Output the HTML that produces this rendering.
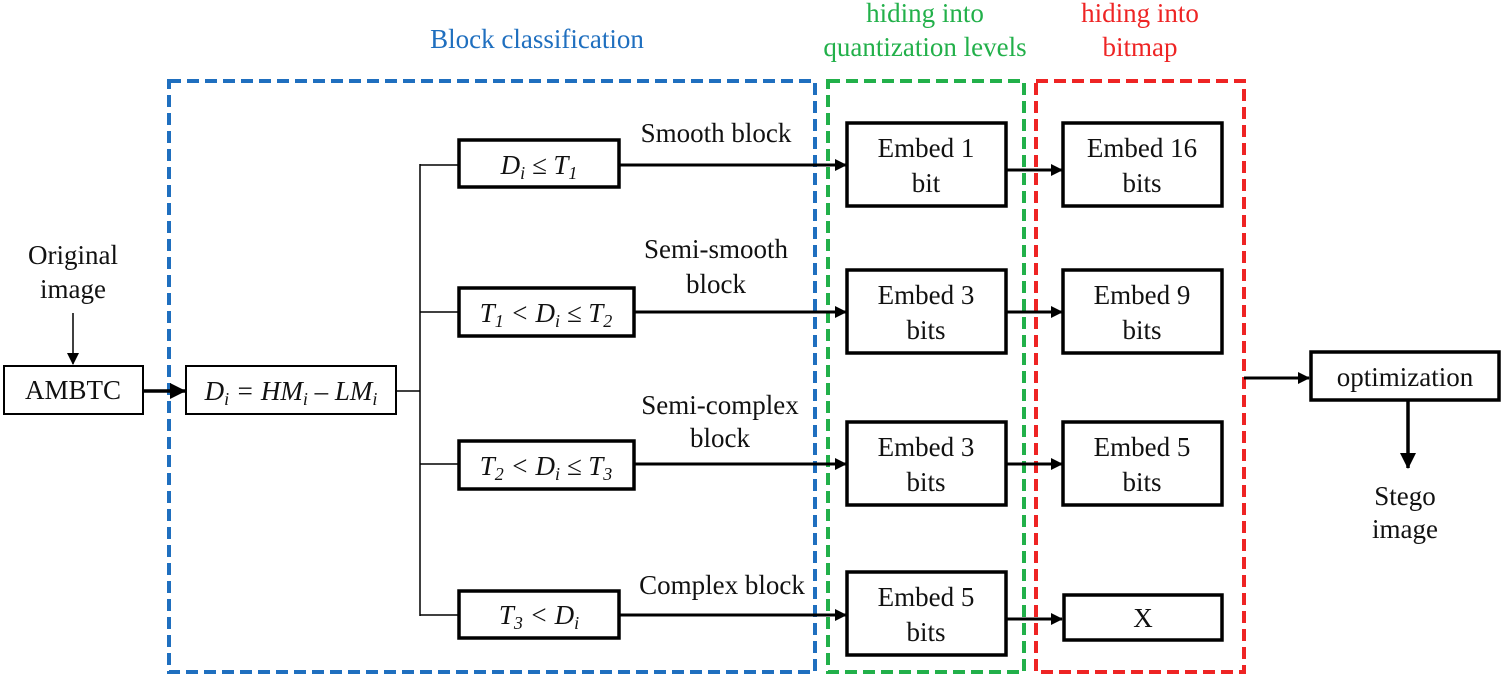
<!DOCTYPE html>
<html><head><meta charset="utf-8"><style>
html,body{margin:0;padding:0;background:#fff;}
svg{display:block;}
text{font-family:"Liberation Serif",serif;font-size:27px;fill:#111;}
.i{font-style:italic;}
</style></head><body>
<svg width="1505" height="679" viewBox="0 0 1505 679" xmlns="http://www.w3.org/2000/svg">
<defs>
<marker id="a" markerWidth="12" markerHeight="12" refX="11" refY="6" orient="auto" markerUnits="userSpaceOnUse">
<path d="M0,0 L12,6 L0,12 z" fill="#000"/></marker>
<marker id="b" markerWidth="16" markerHeight="16" refX="15" refY="8" orient="auto" markerUnits="userSpaceOnUse">
<path d="M0,0 L16,8 L0,16 z" fill="#000"/></marker>
</defs>
<rect x="169" y="81" width="646" height="591" fill="none" stroke="#1f6fbf" stroke-width="4" stroke-dasharray="12,6"/>
<rect x="828" y="81" width="196" height="591" fill="none" stroke="#22b04a" stroke-width="4" stroke-dasharray="12,6"/>
<rect x="1036" y="81" width="208" height="591" fill="none" stroke="#ee2424" stroke-width="4" stroke-dasharray="12,6"/>
<text x="537" y="48" text-anchor="middle" style="fill:#1f6fbf">Block classification</text>
<text x="925" y="22" text-anchor="middle" style="fill:#22b04a">hiding into</text>
<text x="925" y="56" text-anchor="middle" style="fill:#22b04a">quantization levels</text>
<text x="1140" y="22" text-anchor="middle" style="fill:#ee2424">hiding into</text>
<text x="1140" y="56" text-anchor="middle" style="fill:#ee2424">bitmap</text>

<text x="73" y="264" text-anchor="middle">Original</text>
<text x="73" y="298" text-anchor="middle">image</text>
<line x1="73" y1="313" x2="73" y2="364" stroke="#000" stroke-width="1.5" marker-end="url(#a)"/>
<rect x="4" y="366" width="139" height="48" fill="#fff" stroke="#000" stroke-width="2"/>
<text x="73" y="399" text-anchor="middle">AMBTC</text>
<line x1="143" y1="391" x2="185" y2="391" stroke="#000" stroke-width="3.5" marker-end="url(#b)"/>
<rect x="186" y="366" width="210" height="48" fill="#fff" stroke="#000" stroke-width="2"/>
<text x="291" y="400" text-anchor="middle" class="i">D<tspan font-size="18" dy="5">i</tspan><tspan dy="-5"> = HM</tspan><tspan font-size="18" dy="5">i</tspan><tspan dy="-5"> – LM</tspan><tspan font-size="18" dy="5">i</tspan></text>
<line x1="396" y1="391" x2="420" y2="391" stroke="#000" stroke-width="1.5"/>
<line x1="420" y1="164" x2="420" y2="616" stroke="#000" stroke-width="1.5"/>
<g stroke="#000" stroke-width="1.5">
<line x1="420" y1="165" x2="459" y2="165"/><line x1="420" y1="312" x2="459" y2="312"/>
<line x1="420" y1="464" x2="459" y2="464"/><line x1="420" y1="615" x2="459" y2="615"/>
</g>
<g fill="#fff" stroke="#000" stroke-width="3.5">
<rect x="459" y="140" width="160" height="47"/>
<rect x="459" y="288" width="175" height="48"/>
<rect x="459" y="441" width="175" height="48"/>
<rect x="459" y="591" width="160" height="47"/>
</g>
<text x="539" y="174" text-anchor="middle" class="i">D<tspan font-size="18" dy="5">i</tspan><tspan dy="-5"> ≤ T</tspan><tspan font-size="18" dy="5">1</tspan></text>
<text x="546" y="322" text-anchor="middle" class="i">T<tspan font-size="18" dy="5">1</tspan><tspan dy="-5"> &lt; D</tspan><tspan font-size="18" dy="5">i</tspan><tspan dy="-5"> ≤ T</tspan><tspan font-size="18" dy="5">2</tspan></text>
<text x="546" y="475" text-anchor="middle" class="i">T<tspan font-size="18" dy="5">2</tspan><tspan dy="-5"> &lt; D</tspan><tspan font-size="18" dy="5">i</tspan><tspan dy="-5"> ≤ T</tspan><tspan font-size="18" dy="5">3</tspan></text>
<text x="539" y="624" text-anchor="middle" class="i">T<tspan font-size="18" dy="5">3</tspan><tspan dy="-5"> &lt; D</tspan><tspan font-size="18" dy="5">i</tspan></text>
<text x="716" y="142" text-anchor="middle">Smooth block</text>
<text x="716" y="258" text-anchor="middle">Semi-smooth</text>
<text x="716" y="293" text-anchor="middle">block</text>
<text x="720" y="414" text-anchor="middle">Semi-complex</text>
<text x="720" y="447" text-anchor="middle">block</text>
<text x="722" y="594" text-anchor="middle">Complex block</text>
<g stroke="#000" stroke-width="3">
<line x1="619" y1="165" x2="846" y2="165" marker-end="url(#a)"/>
<line x1="634" y1="312" x2="846" y2="312" marker-end="url(#a)"/>
<line x1="634" y1="464" x2="846" y2="464" marker-end="url(#a)"/>
<line x1="619" y1="615" x2="846" y2="615" marker-end="url(#a)"/>
<line x1="1006" y1="170" x2="1062" y2="170" marker-end="url(#a)"/>
<line x1="1006" y1="312" x2="1062" y2="312" marker-end="url(#a)"/>
<line x1="1006" y1="464" x2="1062" y2="464" marker-end="url(#a)"/>
<line x1="1006" y1="619" x2="1062" y2="619" marker-end="url(#a)"/>
<line x1="1244" y1="378" x2="1309" y2="378" marker-end="url(#a)"/>
<line x1="1408" y1="400" x2="1408" y2="468" stroke-width="3.5" marker-end="url(#b)"/>
</g>
<g fill="#fff" stroke="#000" stroke-width="3.5">
<rect x="847" y="123" width="159" height="83"/>
<rect x="847" y="270" width="159" height="83"/>
<rect x="847" y="422" width="159" height="83"/>
<rect x="847" y="572" width="159" height="83"/>
<rect x="1063" y="123" width="159" height="83"/>
<rect x="1063" y="270" width="159" height="83"/>
<rect x="1063" y="422" width="159" height="83"/>
<rect x="1064" y="595" width="158" height="45"/>
<rect x="1311" y="352" width="188" height="48"/>
</g>
<g text-anchor="middle">
<text x="926" y="157">Embed 1</text><text x="926" y="192">bit</text>
<text x="926" y="304">Embed 3</text><text x="926" y="339">bits</text>
<text x="926" y="456">Embed 3</text><text x="926" y="491">bits</text>
<text x="926" y="606">Embed 5</text><text x="926" y="641">bits</text>
<text x="1142" y="157">Embed 16</text><text x="1142" y="192">bits</text>
<text x="1142" y="304">Embed 9</text><text x="1142" y="339">bits</text>
<text x="1142" y="456">Embed 5</text><text x="1142" y="491">bits</text>
<text x="1143" y="627">X</text>
<text x="1405" y="386">optimization</text>
<text x="1405" y="505">Stego</text>
<text x="1405" y="538">image</text>
</g>
</svg>
</body></html>
